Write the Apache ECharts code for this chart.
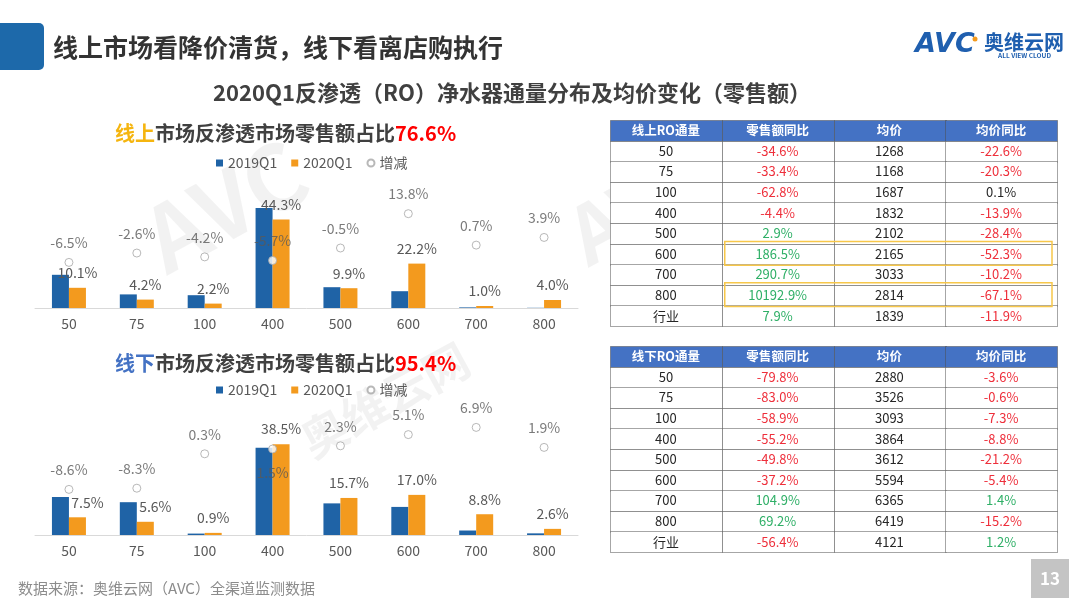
<!DOCTYPE html>
<html>
<head>
<meta charset="utf-8">
<script src="https://cdn.jsdelivr.net/npm/echarts@6/dist/echarts.min.js"></script>
<style>
html,body{margin:0;padding:0;background:#fff;}
#chart{width:1080px;height:608px;}
</style>
</head>
<body>
<div id="chart"></div>
<script>
// ---------- data ----------
const categories = ['50', '75', '100', '400', '500', '600', '700', '800'];
const legendNames = ['2019Q1', '2020Q1', '增减'];

const online2019 = [16.6, 6.8, 6.4, 50.0, 10.4, 8.4, 0.3, 0.1];
const online2020 = [10.1, 4.2, 2.2, 44.3, 9.9, 22.2, 1.0, 4.0];
const onlineChange = [-6.5, -2.6, -4.2, -5.7, -0.5, 13.8, 0.7, 3.9];

const offline2019 = [16.1, 13.9, 0.6, 37.0, 13.4, 11.9, 1.9, 0.7];
const offline2020 = [7.5, 5.6, 0.9, 38.5, 15.7, 17.0, 8.8, 2.6];
const offlineChange = [-8.6, -8.3, 0.3, 1.5, 2.3, 5.1, 6.9, 1.9];

const onlineShare = '76.6%';
const offlineShare = '95.4%';

const onlineColumns = ['线上RO通量', '零售额同比', '均价', '均价同比'];
const offlineColumns = ['线下RO通量', '零售额同比', '均价', '均价同比'];
const tableRowLabels = ['50', '75', '100', '400', '500', '600', '700', '800', '行业'];

const onlineSalesYoY = ['-34.6%', '-33.4%', '-62.8%', '-4.4%', '2.9%', '186.5%', '290.7%', '10192.9%', '7.9%'];
const onlinePrice = ['1268', '1168', '1687', '1832', '2102', '2165', '3033', '2814', '1839'];
const onlinePriceYoY = ['-22.6%', '-20.3%', '0.1%', '-13.9%', '-28.4%', '-52.3%', '-10.2%', '-67.1%', '-11.9%'];
const onlineHighlightRows = ['600', '800'];

const offlineSalesYoY = ['-79.8%', '-83.0%', '-58.9%', '-55.2%', '-49.8%', '-37.2%', '104.9%', '69.2%', '-56.4%'];
const offlinePrice = ['2880', '3526', '3093', '3864', '3612', '5594', '6365', '6419', '4121'];
const offlinePriceYoY = ['-3.6%', '-0.6%', '-7.3%', '-8.8%', '-21.2%', '-5.4%', '1.4%', '-15.2%', '1.2%'];

// ---------- styles ----------
const FONT = "'Noto Sans CJK SC', 'Microsoft YaHei', sans-serif";
const BLUE = '#1F63A6';
const ORANGE = '#F39A1E';
const LABEL = '#595959';
const RED = '#EE2F3B';
const GREEN = '#2EAF66';
const HEAD = '#4472C4';

function pct(v) { return v.toFixed(1) + '%'; }

function tableCells(columns, c1, c2, c3) {
  const cells = [];
  columns.forEach((t, j) => cells.push({ col: j, row: 0, text: t, head: true }));
  tableRowLabels.forEach((r, i) => {
    const vals = [r, c1[i], c2[i], c3[i]];
    vals.forEach((t, j) => {
      let color = '#262626';
      if (j === 1 || j === 3) {
        const v = parseFloat(t);
        if (v < 0) color = RED;
        else if (v >= 0.5) color = GREEN;
      }
      cells.push({ col: j, row: i + 1, text: t, color: color });
    });
  });
  return cells;
}

// label placement tweaks (index -> label layout override), as in the original slide
function layoutFn(tweaks) {
  return function (p) { return (tweaks && tweaks[p.dataIndex]) ? tweaks[p.dataIndex] : {}; };
}

function barSeries(xi, yi, yi2, v2019, v2020, change, barTweaks, dotTweaks) {
  return [
    {
      type: 'bar', name: legendNames[0], xAxisIndex: xi, yAxisIndex: yi,
      data: v2019, barWidth: 17, barGap: '0%',
      itemStyle: { color: BLUE }
    },
    {
      type: 'bar', name: legendNames[1], xAxisIndex: xi, yAxisIndex: yi,
      data: v2020, barWidth: 17, barGap: '0%', z: 3,
      itemStyle: { color: ORANGE },
      labelLayout: layoutFn(barTweaks),
      label: { show: true, position: 'top', distance: 8, color: LABEL, fontSize: 14, fontFamily: FONT, formatter: p => pct(p.value) }
    },
    {
      type: 'scatter', name: legendNames[2], xAxisIndex: xi, yAxisIndex: yi2,
      data: change, symbol: 'circle', symbolSize: 8, z: 5,
      itemStyle: { color: '#ffffff', borderColor: '#a6a6a6', borderWidth: 1 },
      labelLayout: layoutFn(dotTweaks),
      label: { show: true, position: 'top', distance: 8, color: LABEL, fontSize: 14, fontFamily: FONT, formatter: p => pct(p.value) }
    }
  ];
}

const catAxis = (gi) => ({
  type: 'category', gridIndex: gi, data: categories,
  axisTick: { show: false },
  axisLine: { lineStyle: { color: '#d9d9d9', width: 1 } },
  axisLabel: { color: LABEL, fontSize: 14, fontFamily: FONT, margin: 9 }
});
const hiddenVal = (gi, min, max) => ({
  type: 'value', gridIndex: gi, min: min, max: max, show: false, splitLine: { show: false }
});
const tableX = (gi, cols) => ({ type: 'category', gridIndex: gi, data: cols, show: false });
const tableY = (gi) => ({ type: 'category', gridIndex: gi, data: ['head'].concat(tableRowLabels), inverse: true, show: false });

const legendCfg = (top) => ({
  left: 211, top: top, selectedMode: false,
  itemWidth: 7, itemHeight: 7, itemGap: 14,
  textStyle: { fontSize: 14, color: LABEL, fontFamily: FONT },
  data: [
    { name: legendNames[0], icon: 'rect' },
    { name: legendNames[1], icon: 'rect' },
    { name: legendNames[2], icon: 'circle' }
  ]
});

const wm = (x, y, text, size, rot) => ({
  type: 'text', x: x, y: y, rotation: rot, silent: true, z: -10,
  style: { text: text, fill: 'rgba(0,0,0,0.05)', fontSize: size, fontWeight: 'bold', fontFamily: FONT, align: 'center', verticalAlign: 'middle' }
});

const staticGraphics = [
  wm(225, 205, 'AVC', 90, 0.5),
  wm(640, 205, 'AVC', 80, 0.5),
  wm(385, 400, '奥维云网', 46, 0.5),
  wm(790, 420, '奥维云网', 46, 0.5),
  { type: 'rect', shape: { x: -8, y: 23, width: 52, height: 47, r: 5 }, style: { fill: '#1D69AA' } },
  { type: 'text', x: 53, y: 47, style: { text: '线上市场看降价清货，线下看离店购执行', fill: '#333333', fontSize: 25, fontWeight: 'bold', fontFamily: FONT, align: 'left', verticalAlign: 'middle' } },
  { type: 'text', x: 512, y: 93, style: { text: '2020Q1反渗透（RO）净水器通量分布及均价变化（零售额）', fill: '#404040', fontSize: 22, fontWeight: 'bold', fontFamily: FONT, align: 'center', verticalAlign: 'middle' } },
  { type: 'text', x: 915, y: 45, style: { text: 'AVC', fill: '#1F5FAF', fontSize: 27, fontWeight: 900, fontStyle: 'italic', fontFamily: 'DejaVu Sans', align: 'left', verticalAlign: 'middle' } },
  { type: 'circle', shape: { cx: 975, cy: 39, r: 2.5 }, style: { fill: ORANGE } },
  { type: 'text', x: 984, y: 42, style: { text: '奥维云网', fill: '#1F5FAF', fontSize: 20, fontWeight: 'bold', fontFamily: FONT, align: 'left', verticalAlign: 'middle' } },
  { type: 'text', x: 998, y: 56, style: { text: 'ALL VIEW CLOUD', fill: '#1F5FAF', fontSize: 6.5, fontWeight: 'bold', fontFamily: FONT, align: 'left', verticalAlign: 'middle' } },
  { type: 'text', x: 18, y: 588, style: { text: '数据来源：奥维云网（AVC）全渠道监测数据', fill: '#8c8c8c', fontSize: 15, fontFamily: FONT, align: 'left', verticalAlign: 'middle' } },
  { type: 'rect', shape: { x: 1031, y: 559, width: 38, height: 39 }, style: { fill: '#C4C4C4' } },
  { type: 'text', x: 1050, y: 579, style: { text: '13', fill: '#ffffff', fontSize: 17, fontWeight: 'bold', fontFamily: FONT, align: 'center', verticalAlign: 'middle' } }
];

const option = {
  animation: false,
  backgroundColor: '#ffffff',
  textStyle: { fontFamily: FONT },
  title: [
    {
      left: 110, top: 118,
      text: '{a|线上}{b|市场反渗透市场零售额占比}{c|' + onlineShare + '}',
      textStyle: { rich: {
        a: { fontSize: 20, fontWeight: 'bold', color: '#F5B50F', fontFamily: FONT },
        b: { fontSize: 20, fontWeight: 'bold', color: '#404040', fontFamily: FONT },
        c: { fontSize: 20, fontWeight: 'bold', color: '#FF0000', fontFamily: FONT }
      } }
    },
    {
      left: 110, top: 348,
      text: '{a|线下}{b|市场反渗透市场零售额占比}{c|' + offlineShare + '}',
      textStyle: { rich: {
        a: { fontSize: 20, fontWeight: 'bold', color: '#4472C4', fontFamily: FONT },
        b: { fontSize: 20, fontWeight: 'bold', color: '#404040', fontFamily: FONT },
        c: { fontSize: 20, fontWeight: 'bold', color: '#FF0000', fontFamily: FONT }
      } }
    }
  ],
  legend: [legendCfg(151), legendCfg(378)],
  grid: [
    { left: 35, width: 543, top: 188, height: 120 },
    { left: 35, width: 543, top: 417, height: 118 },
    { left: 610, width: 447, top: 120, height: 206 },
    { left: 610, width: 447, top: 346, height: 206 }
  ],
  xAxis: [catAxis(0), catAxis(1), tableX(2, onlineColumns), tableX(3, offlineColumns)],
  yAxis: [
    hiddenVal(0, 0, 60), hiddenVal(0, -25.5, 24.5),
    hiddenVal(1, 0, 50), hiddenVal(1, -20, 9.5),
    tableY(2), tableY(3)
  ],
  series: []
    .concat(barSeries(0, 0, 1, online2019, online2020, onlineChange))
    .concat(barSeries(1, 2, 3, offline2019, offline2020, offlineChange,
      { 0: { dx: 10 }, 1: { dx: 10 } },
      { 3: { dy: 43 } })),
  graphic: staticGraphics
};

const chart = echarts.init(document.getElementById('chart'), null, { renderer: 'canvas' });
chart.setOption(option);

// ---------- tables: cells placed through the table grids' category axes ----------
function tableGraphics(xi, yi, cells, highlightRows) {
  const finder = { xAxisIndex: xi, yAxisIndex: yi };
  const p00 = chart.convertToPixel(finder, [0, 0]);
  const p11 = chart.convertToPixel(finder, [1, 1]);
  const w = p11[0] - p00[0], h = p11[1] - p00[1];
  const out = [];
  cells.forEach(cell => {
    const c = chart.convertToPixel(finder, [cell.col, cell.row]);
    out.push({
      type: 'rect', silent: true,
      shape: { x: Math.round(c[0] - w / 2) + 0.5, y: Math.round(c[1] - h / 2) + 0.5, width: Math.round(w), height: Math.round(h) },
      style: { fill: cell.head ? HEAD : '#ffffff', stroke: '#4d4d4d', lineWidth: 1, lineDash: [1, 1] }
    });
  });
  cells.forEach(cell => {
    const c = chart.convertToPixel(finder, [cell.col, cell.row]);
    out.push({
      type: 'text', silent: true, x: c[0], y: c[1],
      style: {
        text: cell.text, align: 'center', verticalAlign: 'middle',
        fill: cell.head ? '#ffffff' : cell.color,
        fontSize: cell.head ? 12.5 : 13,
        fontWeight: cell.head ? 'bold' : 'normal',
        fontFamily: FONT
      }
    });
  });
  (highlightRows || []).forEach(r => {
    const row = tableRowLabels.indexOf(r) + 1;
    const a = chart.convertToPixel(finder, [1, row]);
    const b = chart.convertToPixel(finder, [3, row]);
    const x0 = a[0] - w / 2 + 3, x1 = b[0] + w / 2 - 5;
    const y0 = a[1] - h / 2 - 2, y1 = a[1] + h / 2 + 1;
    out.push({
      type: 'rect', silent: true,
      shape: { x: x0, y: y0, width: x1 - x0, height: y1 - y0 },
      style: { fill: 'none', stroke: '#F7C74A', lineWidth: 1.5 }
    });
  });
  return out;
}

const tableEls = []
  .concat(tableGraphics(2, 4, tableCells(onlineColumns, onlineSalesYoY, onlinePrice, onlinePriceYoY), onlineHighlightRows))
  .concat(tableGraphics(3, 5, tableCells(offlineColumns, offlineSalesYoY, offlinePrice, offlinePriceYoY), []));

chart.setOption({ graphic: staticGraphics.concat(tableEls) });
</script>
</body>
</html>
